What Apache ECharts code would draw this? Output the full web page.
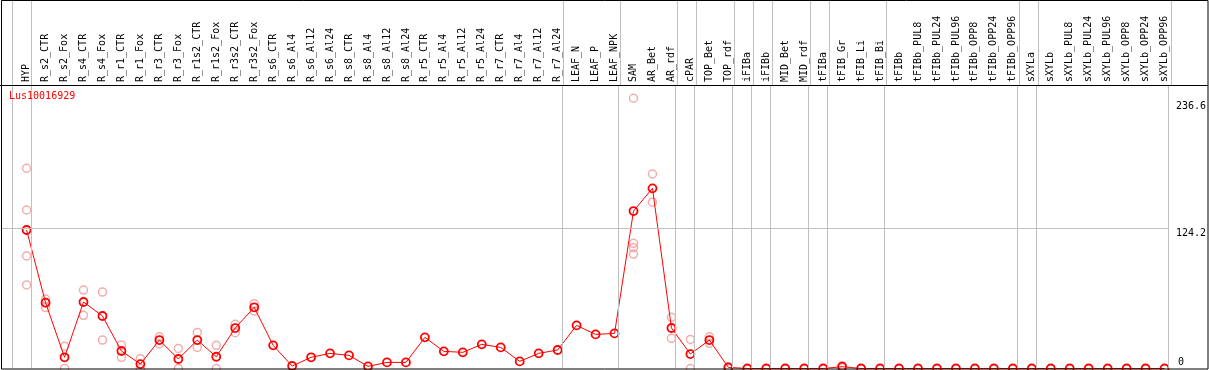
<!DOCTYPE html>
<html>
<head>
<meta charset="utf-8">
<script src="https://cdn.jsdelivr.net/npm/echarts@6/dist/echarts.min.js"></script>
<style>
html,body{margin:0;padding:0;background:#fff;}
#chart{width:1209px;height:370px;}
</style>
</head>
<body>
<div id="chart"></div>
<script>
const title = 'Lus10016929';
const categories = ['HYP','R_s2_CTR','R_s2_Fox','R_s4_CTR','R_s4_Fox','R_r1_CTR','R_r1_Fox','R_r3_CTR','R_r3_Fox','R_r1s2_CTR','R_r1s2_Fox','R_r3s2_CTR','R_r3s2_Fox','R_s6_CTR','R_s6_Al4','R_s6_Al12','R_s6_Al24','R_s8_CTR','R_s8_Al4','R_s8_Al12','R_s8_Al24','R_r5_CTR','R_r5_Al4','R_r5_Al12','R_r5_Al24','R_r7_CTR','R_r7_Al4','R_r7_Al12','R_r7_Al24','LEAF_N','LEAF_P','LEAF_NPK','SAM','AR_Bet','AR_rdf','cPAR','TOP_Bet','TOP_rdf','iFIBa','iFIBb','MID_Bet','MID_rdf','tFIBa','tFIB_Gr','tFIB_Li','tFIB_Bi','tFIBb','tFIBb_PUL8','tFIBb_PUL24','tFIBb_PUL96','tFIBb_OPP8','tFIBb_OPP24','tFIBb_OPP96','sXYLa','sXYLb','sXYLb_PUL8','sXYLb_PUL24','sXYLb_PUL96','sXYLb_OPP8','sXYLb_OPP24','sXYLb_OPP96'];
const means = [122.7,58.3,9.9,58.9,46.5,15.5,3.9,25.2,8.4,25.2,10.4,35.8,54.2,20.5,2.2,9.9,13.4,11.6,1.9,5.4,5.4,27.6,15.2,14.3,21.4,18.7,6.3,13.4,16.4,38.2,30.2,31.1,139.5,159.6,35.9,12.8,25.2,1.0,
  0,0,0,0,0,1.6,0,0,0,0,0,0,0,0,0,0,0,0,0,0,0,0,0];
const replicates = [
  [177.4,140.4,99.7,74.0],[61.5,54.0,58.3],[19.8,0],[69.5,47.1],[67.7,25.2],[20.8,9.9],[8.7,0],[28.2,21.7],[17.8,0],[32.0,18.7],[20.5,0],[39.1,31.7],[57.4,50.9],
  [],[],[],[],[],[],[],[],[],[],[],[],[],[],[],[],[],[],[],
  [239.4,110.9,107.0,101.4],[172.3,147.3],[45.3,26.7],[25.8,0],[28.2,22.3],[1.5,0],
  [],[],[],[],[],[2.5,0.7],[],[],[],[],[],[],[],[],[],[],[],[],[],[],[],[],[]
];
// separators are drawn just after these category indices
const separatorsAfter = [-1,0,28,31,34,35,37,38,39,41,42,45,52,53,60];
const yTicksTop = [124.2, 236.6];
const yTicksBottom = [0];
const gridLineValues = [124.2];

const X_MIN = -1.35, X_MAX = 60.229, Y_MAX = 251.15, SEP_OFF = 0.22;
const FONT = 'DejaVu Sans Mono';

const repData = [];
replicates.forEach((arr, i) => arr.forEach(v => repData.push([i, v])));
const meanData = means.map((v, i) => [i, v]);
const sepLines = separatorsAfter.map(k => ({xAxis: k + SEP_OFF}));
const sepStyle = {color: '#c0c0c0', width: 1, type: 'solid'};

const chart = echarts.init(document.getElementById('chart'), null, {renderer: 'canvas'});
chart.setOption({
  animation: false,
  backgroundColor: '#fff',
  title: {text: title, left: 9, top: 91, padding: 0, textStyle: {color: '#ff0000', fontSize: 10, fontFamily: FONT, fontWeight: 'normal'}},
  grid: [
    {left: 1, right: 38, top: 85, bottom: 1.5},
    {left: 1, right: 38, top: 0, height: 85}
  ],
  xAxis: [
    {gridIndex: 0, type: 'value', position: 'top', min: X_MIN, max: X_MAX,
     axisLine: {show: false}, axisTick: {show: false}, splitLine: {show: false},
     axisLabel: {customValues: categories.map((_, i) => i), formatter: v => categories[Math.round(v)] || '',
       rotate: 90, margin: 3, fontSize: 10, fontFamily: FONT, color: '#000'}},
    {gridIndex: 1, type: 'value', min: X_MIN, max: X_MAX, show: false}
  ],
  yAxis: [
    {gridIndex: 0, type: 'value', position: 'right', min: 0, max: Y_MAX,
     axisLine: {show: false}, axisTick: {show: false}, splitLine: {show: false},
     axisLabel: {customValues: yTicksTop, formatter: v => String(v), verticalAlign: 'top', align: 'left', margin: 7,
       fontSize: 10, fontFamily: FONT, color: '#000'}},
    {gridIndex: 0, type: 'value', position: 'right', min: 0, max: Y_MAX,
     axisLine: {show: false}, axisTick: {show: false}, splitLine: {show: false},
     axisLabel: {customValues: yTicksBottom, formatter: v => String(v), verticalAlign: 'bottom', align: 'left', margin: 9,
       padding: [0, 0, 1, 0], fontSize: 10, fontFamily: FONT, color: '#000'}},
    {gridIndex: 1, type: 'value', min: 0, max: 1, show: false}
  ],
  graphic: [
    {type: 'rect', shape: {x: 1.5, y: 0.5, width: 1206.5, height: 368.5}, style: {fill: 'none', stroke: '#000', lineWidth: 1}, z: 100, silent: true},
    {type: 'line', shape: {x1: 0, y1: 85.5, x2: 1208, y2: 85.5}, style: {stroke: '#000', lineWidth: 1}, z: 100, silent: true}
  ],
  series: [
    {type: 'line', xAxisIndex: 1, yAxisIndex: 2, data: [[X_MIN, -5]], symbol: 'none', lineStyle: {opacity: 0}, z: 1,
     markLine: {silent: true, symbol: 'none', label: {show: false}, lineStyle: sepStyle, data: sepLines}},
    {type: 'line', xAxisIndex: 0, yAxisIndex: 0, data: [[X_MIN, -5]], symbol: 'none', lineStyle: {opacity: 0}, z: 1,
     markLine: {silent: true, symbol: 'none', label: {show: false}, lineStyle: sepStyle,
       data: sepLines.concat(gridLineValues.map(v => ({yAxis: v})))}},
    {name: 'replicates', type: 'scatter', xAxisIndex: 0, yAxisIndex: 0, data: repData, symbol: 'circle', symbolSize: 8, z: 2,
     itemStyle: {color: 'rgba(255,255,255,0)', borderColor: '#ee9a9a', borderWidth: 1.5}},
    {name: 'mean', type: 'line', xAxisIndex: 0, yAxisIndex: 0, data: meanData, symbol: 'circle', symbolSize: 8, showAllSymbol: true, z: 3,
     lineStyle: {color: '#ff0000', width: 1}, itemStyle: {color: 'rgba(255,255,255,0)', borderColor: '#ff0000', borderWidth: 1.8}}
  ]
});
</script>
</body>
</html>
